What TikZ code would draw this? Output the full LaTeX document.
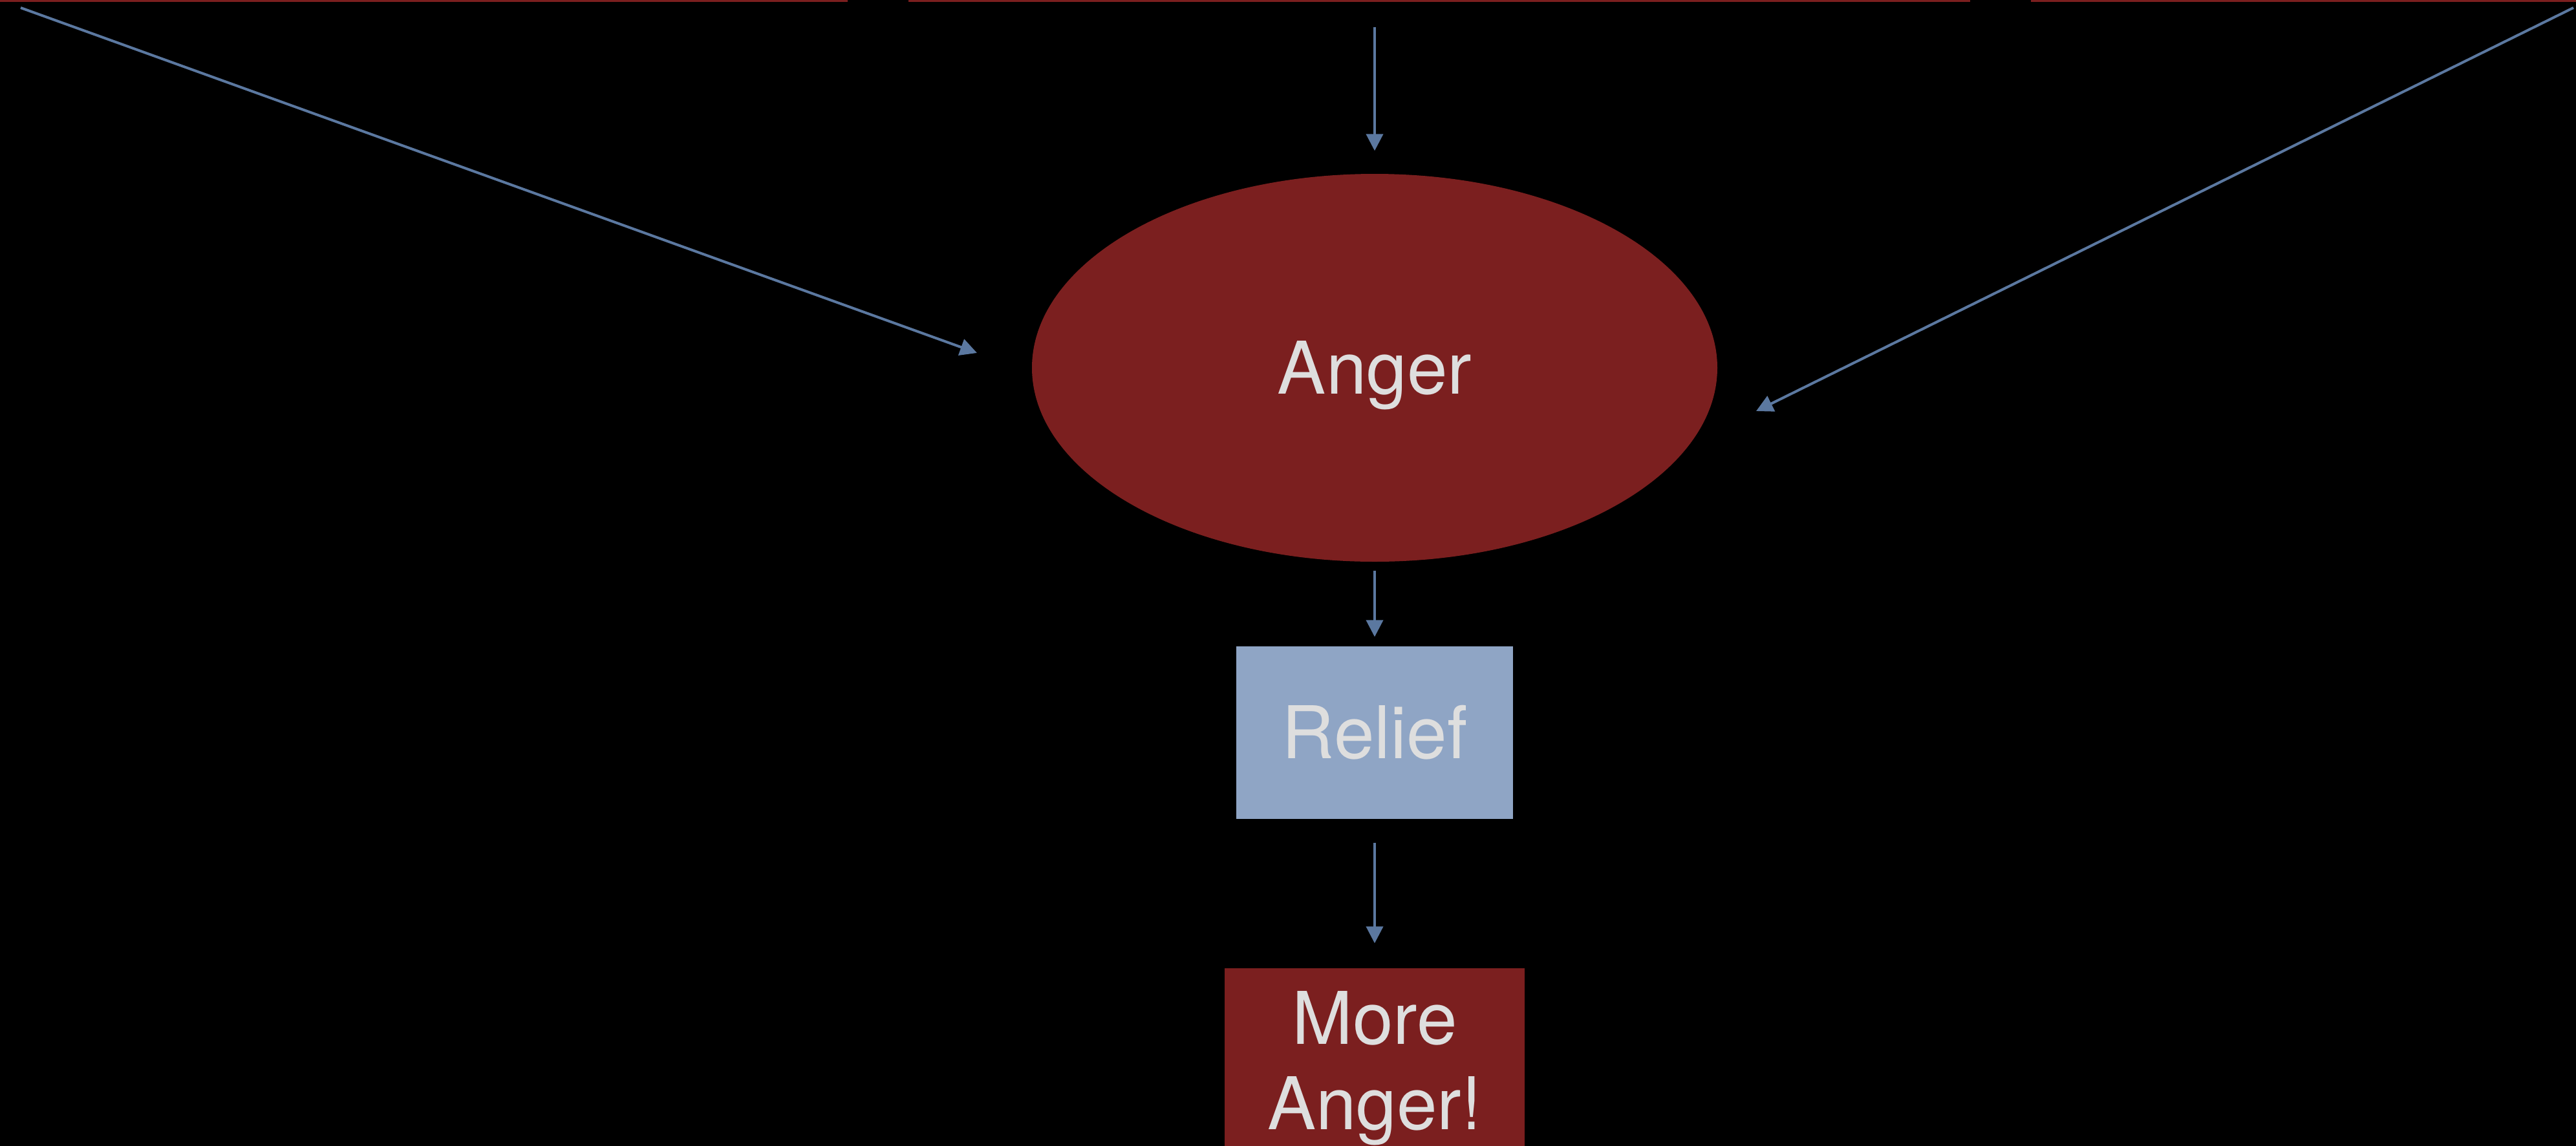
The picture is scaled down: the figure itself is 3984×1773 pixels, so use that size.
\documentclass[tikz,border=0pt]{standalone}
\usepackage{fontspec}
\setmainfont{TeX Gyre Heros}
\usetikzlibrary{arrows.meta,shapes.geometric}
\definecolor{angerred}{RGB}{123,31,31}
\definecolor{reliefblue}{RGB}{143,165,197}
\definecolor{arrowblue}{RGB}{91,120,160}
\definecolor{labelgray}{RGB}{222,222,222}
\tikzset{
  flow/.style={draw=arrowblue, line width=0.4mm, -{Triangle[length=2.6mm,width=2.6mm]}},
  bigtext/.style={text=labelgray, font=\fontsize{32}{37.5}\selectfont, inner sep=0pt},
  topbox/.style={fill=angerred, anchor=south, minimum height=30mm, inner sep=0pt},
  angerblob/.style={bigtext, ellipse, fill=angerred, minimum width=106mm, minimum height=60mm, text height=23pt, text depth=0pt},
  reliefbox/.style={bigtext, rectangle, fill=reliefblue, minimum width=42.8mm, minimum height=26.7mm, text height=23pt, text depth=0pt},
  morebox/.style={bigtext, rectangle, fill=angerred, align=center, minimum width=46.4mm, minimum height=28.6mm, text height=60.5pt, text depth=0pt}
}
\begin{document}
\begin{tikzpicture}[x=0.1mm, y=-0.1mm]
    \useasboundingbox (0,0) rectangle (3984,1773);
    \fill[black] (0,0) rectangle (3984,1773);
    \clip (0,0) rectangle (3984,1773);
    % boxes cut off by the top edge
    \node[topbox, minimum width=141.1mm] (top1) at (605.5,4) {};
    \node[topbox, minimum width=164.2mm] (top2) at (2226,4) {};
    \node[topbox, minimum width=95.9mm] (top3) at (3620.5,4) {};
    % the chain
    \node[angerblob] (anger) at (2126,569) {Anger};
    \node[reliefbox] (relief) at (2126,1133.5) {Relief};
    \node[morebox] (more) at (2126,1641) {More\\Anger!};
    \coordinate (leftfrom) at (32,12);
    \coordinate (leftto) at (1511,546);
    \coordinate (rightfrom) at (3980,12);
    \coordinate (rightto) at (2716,636);
    \draw[flow] (leftfrom) -- (leftto);
    \draw[flow] (rightfrom) -- (rightto);
    \draw[flow, shorten <=3.8mm, shorten >=3.5mm] (anger.north |- top2.south) -- (anger.north);
    \draw[flow, shorten <=1.3mm, shorten >=1.4mm] (anger) -- (relief);
    \draw[flow, shorten <=3.6mm, shorten >=3.8mm] (relief) -- (more);
\end{tikzpicture}
\end{document}
